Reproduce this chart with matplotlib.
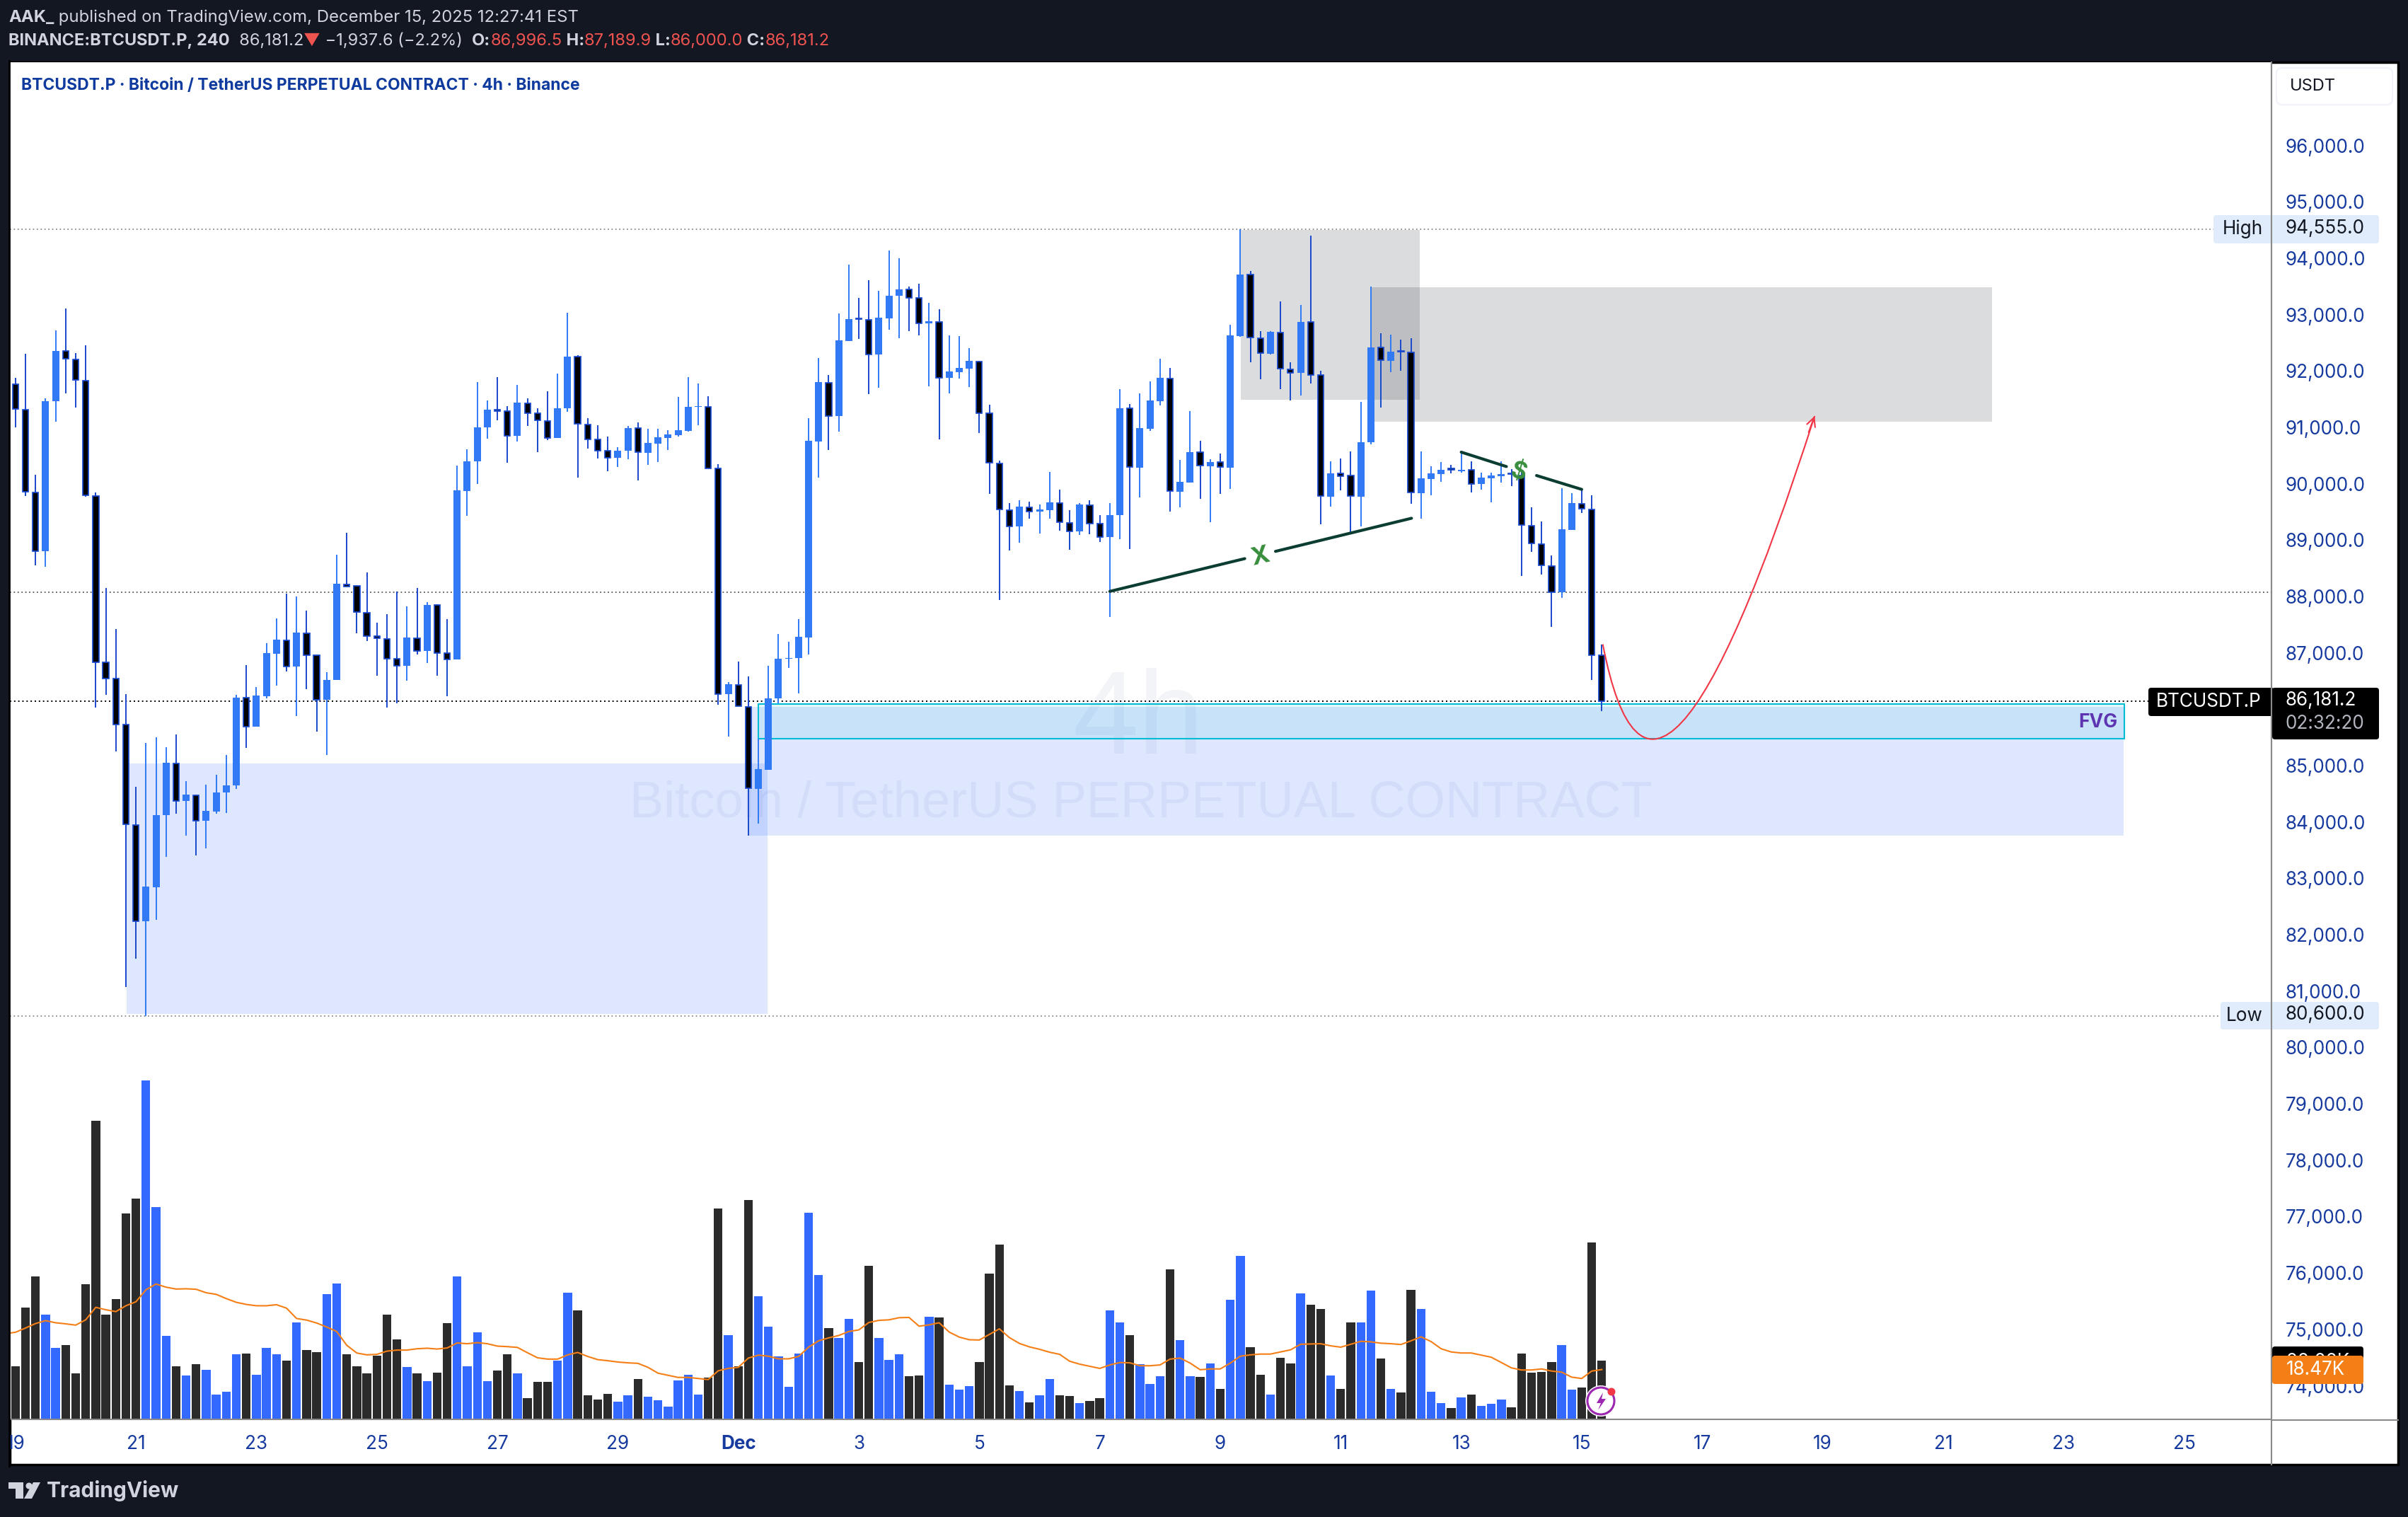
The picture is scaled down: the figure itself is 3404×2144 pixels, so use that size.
import matplotlib
matplotlib.use("Agg")
import matplotlib.pyplot as plt
from matplotlib.patches import Rectangle, FancyBboxPatch, PathPatch, Polygon, Circle
from matplotlib.path import Path

# candle values (index 0 = Nov 19 00:00, one candle = 4h)
opens = [91804, 91356, 89886, 88846, 91499, 92387, 92243, 91867, 89823, 86865, 86587, 85771, 83988, 82275, 82885, 84158,
         85081, 84409, 84517, 84059, 84221, 84561, 84687, 86247, 85727, 86264, 87017, 87259, 86793, 87385, 86991, 86211,
         86551, 88254, 88228, 87753, 87340, 87286, 86929, 86814, 87300, 87076, 87883, 87038, 86916, 89913, 90431, 91033,
         91353, 91321, 90892, 91469, 91283, 91155, 90854, 91373, 92288, 91091, 90828, 90617, 90502, 90617, 91020, 90591,
         90745, 90854, 90899, 90976, 91405, 91405, 90303, 86301, 86474, 86082, 84630, 84967, 86227, 86929, 86943, 87315,
         90791, 91830, 91232, 92567, 92966, 92939, 92326, 92966, 93366, 93489, 93338, 92877, 92911, 91920, 92016, 92078,
         92209, 91293, 90399, 89573, 89277, 89621, 89538, 89566, 89696, 89345, 89187, 89662, 89325, 89091, 89482, 91370,
         90328, 91010, 91504, 91908, 89900, 90063, 90592, 90352, 90428, 90328, 92657, 93743, 92623, 92340, 92724, 92071,
         92009, 92902, 91961, 89809, 90217, 90179, 89809, 90774, 92460, 92220, 92393, 92364, 89876, 90126, 90212, 90313,
         90265, 90280, 90035, 90135, 90175, 90221, 90183, 89297, 88970, 88581, 88117, 89221, 89686, 89585, 86996.5]
highs = [91912, 92342, 90200, 91553, 92754, 93149, 92351, 92494, 89886, 88192, 87457, 86309, 84660, 85440, 85538, 85368,
         85592, 84759, 84525, 84696, 84875, 85225, 86291, 86820, 86435, 87206, 87645, 88084, 88039, 87788, 86991, 86695,
         88774, 89169, 88228, 88461, 87573, 87726, 88126, 87864, 88190, 87934, 87902, 87633, 90361, 90649, 91840, 91513,
         91930, 91411, 91789, 91552, 91373, 91680, 91994, 93069, 92314, 91200, 91072, 90873, 90687, 91059, 91123, 91014,
         91014, 90988, 91577, 91930, 91814, 91590, 90387, 86519, 86884, 86619, 85518, 86805, 87370, 87232, 87638, 91197,
         92264, 91968, 93056, 93923, 93331, 93648, 93462, 94171, 94033, 93531, 93586, 93249, 93132, 92670, 92657, 92443,
         92216, 91438, 90447, 89696, 89745, 89717, 89669, 90247, 89930, 89566, 89696, 89745, 89483, 89696, 91716, 91456,
         91639, 91850, 92254, 92090, 90457, 91327, 90798, 90472, 90572, 92854, 94555, 93810, 92744, 92744, 93272, 92191,
         93209, 94439, 92042, 90433, 90486, 90611, 91490, 93536, 92705, 92681, 92595, 92619, 90611, 90347, 90419, 90371,
         90597, 90433, 90232, 90232, 90434, 90296, 90242, 89619, 89368, 88765, 89958, 89870, 89928, 89832, 87189.9]
lows = [91033, 89814, 88595, 88559, 91132, 91634, 91383, 89805, 86067, 86291, 85287, 81110, 81612, 80600, 82302, 83414,
        84185, 83790, 83450, 83575, 84185, 84194, 84624, 85350, 85727, 86229, 86453, 86704, 85915, 86399, 85646, 85225,
        86551, 88210, 87385, 87241, 86632, 86067, 86141, 86538, 87012, 86852, 86628, 86263, 86916, 89465, 90028, 90841,
        91168, 90406, 90790, 91059, 90604, 90816, 90854, 91309, 90150, 90655, 90489, 90265, 90329, 90476, 90092, 90367,
        90419, 90630, 90880, 90956, 91078, 90303, 86122, 85559, 86090, 83790, 84003, 84967, 86144, 86764, 86323, 87005,
        90151, 90640, 90956, 92567, 92601, 91631, 91734, 92774, 92622, 92739, 92663, 91762, 90818, 91645, 91906, 91748,
        90942, 89862, 87969, 88857, 88987, 89414, 89159, 89421, 89201, 88870, 89125, 89146, 89008, 87679, 89060, 88882,
        89799, 90976, 91432, 89549, 89622, 90063, 89775, 89357, 89862, 89948, 92643, 92196, 91893, 92330, 91720, 91519,
        91605, 91821, 89324, 89636, 89924, 89184, 89285, 90741, 91394, 92018, 92047, 89684, 89420, 89838, 90073, 90227,
        90236, 89886, 89939, 89713, 90062, 89999, 88406, 88832, 88431, 87502, 88017, 89221, 89523, 86561, 86000]
closes = [91365, 89895, 88846, 91499, 92396, 92252, 91876, 89832, 86865, 86587, 85771, 83997, 82275, 82894, 84158, 85090,
          84409, 84525, 84059, 84239, 84561, 84687, 86247, 85727, 86282, 87035, 87268, 86793, 87394, 86991, 86211, 86560,
          88263, 88219, 87761, 87340, 87295, 86928, 86814, 87307, 87076, 87889, 87038, 86916, 89919, 90431, 91040, 91353,
          91321, 90892, 91475, 91283, 91161, 90854, 91373, 92295, 91097, 90828, 90617, 90502, 90623, 91027, 90598, 90758,
          90860, 90912, 90988, 91398, 91417, 90303, 86308, 86481, 86090, 84637, 84974, 86227, 86929, 86950, 87321, 90798,
          91837, 91232, 92581, 92959, 92953, 92326, 92980, 93372, 93483, 93338, 92877, 92918, 91920, 92030, 92092, 92216,
          91293, 90405, 89579, 89277, 89628, 89545, 89579, 89703, 89352, 89187, 89669, 89325, 89098, 89483, 91375, 90332,
          91024, 91514, 91913, 89905, 90068, 90597, 90356, 90428, 90332, 92667, 93747, 92628, 92350, 92729, 92076, 92009,
          92907, 91961, 89814, 90222, 90174, 89814, 90779, 92460, 92225, 92374, 92374, 89881, 90131, 90217, 90289, 90289,
          90289, 90039, 90140, 90184, 90209, 90204, 89301, 88975, 88586, 88117, 89226, 89690, 89589, 86996.5, 86181.2]

# volume and its moving average, in thousands
volumes = [19.8, 41.9, 53.6, 39.2, 26.7, 27.8, 17.1, 50.5, 112.2, 39.2, 45.1, 77.4, 83.0, 127.4, 79.7, 31.2,
           19.8, 16.1, 20.6, 18.4, 9.1, 10.2, 24.1, 24.5, 16.5, 26.7, 24.3, 21.9, 36.3, 25.9, 25.1, 47.0,
           50.9, 24.1, 19.8, 17.1, 23.8, 39.2, 29.9, 19.3, 17.1, 14.1, 17.4, 36.0, 53.6, 19.8, 32.5, 14.1,
           18.2, 24.1, 17.1, 7.6, 13.9, 13.7, 21.7, 47.5, 40.8, 8.8, 7.2, 9.3, 6.4, 8.8, 14.9, 8.3,
           6.9, 4.5, 14.4, 16.5, 9.1, 15.5, 79.1, 31.4, 19.7, 82.3, 46.1, 34.6, 23.5, 12.0, 24.5, 77.5,
           54.1, 34.1, 30.4, 37.6, 21.3, 57.6, 30.4, 22.1, 24.3, 16.0, 16.3, 38.4, 38.1, 12.8, 10.9, 12.3,
           21.3, 54.6, 65.6, 12.5, 10.4, 6.1, 8.8, 14.9, 8.8, 8.5, 5.9, 6.7, 7.7, 40.8, 36.2, 31.4,
           20.5, 13.1, 16.0, 56.2, 29.6, 16.0, 15.7, 20.8, 11.2, 44.8, 61.3, 26.9, 16.5, 9.1, 22.9, 20.8,
           47.2, 42.9, 41.3, 16.3, 11.2, 36.2, 36.2, 48.2, 22.7, 11.2, 9.9, 48.5, 41.3, 10.1, 5.9, 4.0,
           8.0, 9.1, 4.8, 5.6, 7.2, 4.3, 24.5, 17.3, 17.6, 21.3, 27.7, 10.9, 11.7, 66.4, 21.9]
# starts one bar before the first candle, that bar sits behind the left edge
vol_ma = [32.0, 32.5, 34.1, 35.8, 36.9, 36.1, 35.7, 35.2, 37.2, 41.9, 41.0, 40.3, 42.5, 44.0, 48.5, 50.7, 49.5,
          48.8, 48.9, 48.7, 47.4, 46.8, 45.2, 43.8, 43.0, 42.5, 42.5, 42.9, 41.6, 37.7, 37.1, 36.0, 34.5,
          32.8, 27.6, 24.7, 24.0, 24.2, 25.4, 25.8, 25.8, 26.3, 26.5, 26.2, 26.6, 28.5, 28.2, 28.6, 28.2,
          27.3, 27.1, 26.8, 24.8, 22.9, 22.4, 22.4, 24.0, 24.9, 23.4, 22.2, 21.8, 21.3, 21.0, 20.8, 19.3,
          17.1, 16.3, 15.5, 15.5, 15.1, 14.7, 18.0, 18.9, 19.3, 22.8, 23.9, 23.5, 22.5, 22.5, 23.4, 26.9,
          29.3, 30.4, 31.3, 32.8, 33.4, 36.2, 37.0, 37.2, 38.0, 38.1, 34.8, 35.3, 36.1, 32.6, 30.7, 29.7,
          29.6, 31.7, 33.8, 30.5, 28.3, 27.0, 26.1, 25.0, 24.2, 21.6, 20.5, 19.7, 18.9, 20.2, 21.1, 21.0,
          19.9, 19.9, 20.2, 22.4, 22.8, 20.9, 18.4, 18.7, 18.7, 20.9, 23.5, 24.0, 24.3, 24.3, 25.1, 25.9,
          28.0, 28.1, 28.2, 27.4, 26.9, 28.0, 29.1, 28.9, 28.4, 28.2, 27.9, 29.3, 30.8, 29.0, 26.3, 25.1,
          24.7, 24.7, 23.9, 23.1, 21.1, 19.1, 18.3, 18.3, 18.7, 17.9, 17.5, 15.6, 15.1, 17.9, 18.47]

price_ticks = list(range(74000, 97000, 1000))
date_ticks = [0, 12, 24, 36, 48, 60, 72, 84, 96, 108, 120, 132, 144, 156, 168, 180, 192, 204, 216]
date_labels = ["19", "21", "23", "25", "27", "29", "Dec", "3", "5", "7", "9", "11", "13", "15", "17", "19", "21", "23", "25"]

high_level = 94555
low_level = 80600
mid_level = 88113
last_close = 86181.2

# colours
BG = "#131722"
UP = "#3179f5"
DOWN_EDGE = "#1848cc"
VOL_UP = "#3369ff"
VOL_DOWN = "#2b2b2b"
TICK = "#173a9e"
ZONE_BLUE = "#2962ff"
FVG = "#00bcd4"
LINE_GREEN = "#0b3d33"
TEXT_GREEN = "#388e3c"
RED = "#f23645"
FONT = "Inter"
AXIS_SIZE = 18.8

W, H = 3404, 2144
fig = plt.figure(figsize=(W / 100, H / 100), dpi=100, facecolor=BG)

# chart pane, pixel box 14..3211 x 88..2006
ax = fig.add_axes([14 / W, 1 - 2006 / H, (3211 - 14) / W, (2006 - 88) / H], facecolor="white")
ax.set_xlim(-0.55, 224.7)
ax.set_ylim(73442, 97513)

vol_ax = fig.add_axes(ax.get_position(), facecolor="none", sharex=ax)
vol_ax.set_ylim(-0.3, 511)
vol_ax.axis("off")

xs = list(range(len(opens)))
is_up = [c >= o for o, c in zip(opens, closes)]

# zones under the candles
def zone(x0, x1, p0, p1, color, alpha, z=1.0):
    ax.add_patch(Rectangle((x0, p0), x1 - x0, p1 - p0, facecolor=color, edgecolor="none", alpha=alpha, zorder=z))

ax.text(111.8, 85790, "4h", family="Liberation Sans", fontsize=120, color="#f3f4f7", ha="center", va="center", zorder=0.5)
ax.text(112.1, 84350, "Bitcoin / TetherUS PERPETUAL CONTRACT", family="Liberation Sans", fontsize=52,
        color="#f1f3f8", ha="center", va="center", zorder=0.5)

zone(11.07, 74.9, 80635, 85072, ZONE_BLUE, 0.15)
zone(73.07, 209.95, 83797, 86075, ZONE_BLUE, 0.15)
zone(122.07, 139.9, 91523, 94540, BG, 0.15)
zone(135.0, 196.9, 91139, 93522, BG, 0.15)
ax.add_patch(Rectangle((74, 85515), 136.05, 619, facecolor=FVG + "1a", edgecolor=FVG, lw=1.5, zorder=1.2))

# dotted levels
dots = (0, (1, 2))
ax.axhline(high_level, color="#8a8a8a", lw=1.3, ls=dots, zorder=1.5)
ax.axhline(low_level, color="#8a8a8a", lw=1.3, ls=dots, zorder=1.5)
ax.axhline(mid_level, color="#555555", lw=1.3, ls=dots, zorder=1.5)
ax.axhline(last_close, color="black", lw=1.4, ls=dots, zorder=1.5)

# candles
wick_colors = [UP if u else DOWN_EDGE for u in is_up]
ax.vlines(xs, lows, highs, colors=wick_colors, lw=1.4, zorder=3)
for x, o, c, u in zip(xs, opens, closes, is_up):
    if u:
        ax.bar(x, max(c - o, 12), bottom=o, width=0.705, color=UP, linewidth=0, zorder=4)
    else:
        ax.bar(x, o - c, bottom=c, width=0.585, facecolor="black", edgecolor=DOWN_EDGE, linewidth=1.25, zorder=4)

# volume
vol_ax.bar(xs, volumes, width=0.87, color=[VOL_UP if u else VOL_DOWN for u in is_up], linewidth=0, zorder=2)
vol_ax.plot([-1] + xs, vol_ma, color="#f57f17", lw=1.5, zorder=3)

# drawings
ax.plot([109, 122.44], [88128, 88709], color=LINE_GREEN, lw=3, solid_capstyle="round", zorder=6)
ax.plot([125.5, 139.05], [88838, 89425], color=LINE_GREEN, lw=3, solid_capstyle="round", zorder=6)
ax.plot([144, 148.5], [90598, 90342], color=LINE_GREEN, lw=3, solid_capstyle="round", zorder=6)
ax.plot([151.5, 156], [90183, 89937], color=LINE_GREEN, lw=3, solid_capstyle="round", zorder=6)
ax.text(124, 88740, "X", family=FONT, weight="bold", fontsize=25, color=TEXT_GREEN, rotation=13.5,
        ha="center", va="center", zorder=6)
ax.text(149.7, 90240, "$", family=FONT, weight="bold", fontsize=24, color=TEXT_GREEN, rotation=-17,
        ha="center", va="center", zorder=6)

curve = Path([(158.1, 87190), (163.3, 82400), (179.2, 91238)], [Path.MOVETO, Path.CURVE3, Path.CURVE3])
ax.add_patch(PathPatch(curve, facecolor="none", edgecolor=RED, lw=1.5, zorder=6))
ax.annotate("", xy=(179.2, 91238), xytext=(178.6, 90950),
            arrowprops=dict(arrowstyle="->", color=RED, lw=1.5, mutation_scale=22, shrinkA=0, shrinkB=0), zorder=6)

ax.text(209.4, 85800, "FVG", family=FONT, weight="bold", fontsize=19, color="#5e35b1", ha="right", va="center", zorder=7)

# axes
for side in ["top", "left"]:
    ax.spines[side].set_visible(False)
for side in ["right", "bottom"]:
    ax.spines[side].set_color("#8a8a8a")
    ax.spines[side].set_linewidth(1.5)
ax.yaxis.tick_right()
ax.set_yticks(price_ticks, [f"{p:,.1f}" for p in price_ticks], family=FONT, fontsize=AXIS_SIZE, color=TICK)
ax.set_xticks(date_ticks, date_labels, family=FONT, fontsize=AXIS_SIZE, color=TICK)
ax.tick_params(axis="both", length=0)
ax.tick_params(axis="y", pad=14)
ax.tick_params(axis="x", pad=16)
for lab in ax.get_yticklabels():
    lab.set_va("center")
for lab in ax.get_xticklabels():
    if lab.get_text() == "Dec":
        lab.set_fontweight("bold")

# everything outside the panes, in pixel coordinates
ov = fig.add_axes([0, 0, 1, 1], facecolor="none", zorder=10)
ov.set_xlim(0, W)
ov.set_ylim(H, 0)
ov.axis("off")

def tag(x0, y0, x1, y1, color, z=2):
    ov.add_patch(FancyBboxPatch((x0 + 4, y0 + 4), x1 - x0 - 8, y1 - y0 - 8, boxstyle="round,pad=4",
                                facecolor=color, edgecolor="none", zorder=z))

# right hand panel and frame
fig.patches.append(Rectangle((14 / W, 1 - 2070 / H), (3390 - 14) / W, (2070 - 88) / H, transform=fig.transFigure,
                             facecolor="white", edgecolor="black", lw=2.5, zorder=-1))
ov.add_patch(Rectangle((0, 86), 13, 1990, facecolor=BG, edgecolor="none", zorder=1))
ov.plot([13, 13], [86, 2072], color="black", lw=2, zorder=1)
ov.plot([3211, 3211], [88, 2070], color="#8a8a8a", lw=1.5, zorder=5)
ov.plot([3211, 3390], [2006.7, 2006.7], color="#8a8a8a", lw=1.5, zorder=1)

ov.add_patch(FancyBboxPatch((3226, 104), 148, 36, boxstyle="round,pad=8", facecolor="white", edgecolor="#f0f3fa", lw=1.5, zorder=1))
ov.text(3237, 122, "USDT", family=FONT, fontsize=17, color="#131722", va="center", ha="left", zorder=3)

tag(3129, 304, 3363, 344, "#e0ecfb")
ov.text(3199, 324, "High", family=FONT, fontsize=AXIS_SIZE, color="#131722", ha="right", va="center", zorder=3)
ov.text(3230, 323, "94,555.0", family=FONT, fontsize=AXIS_SIZE, color="#131722", ha="left", va="center", zorder=3)

tag(3139, 1416, 3363, 1455, "#e0ecfb")
ov.text(3199, 1436, "Low", family=FONT, fontsize=AXIS_SIZE, color="#131722", ha="right", va="center", zorder=3)
ov.text(3230, 1434, "80,600.0", family=FONT, fontsize=AXIS_SIZE, color="#131722", ha="left", va="center", zorder=3)

tag(3037, 972, 3215, 1012, "black")
tag(3212, 972, 3363, 1045, "black")
ov.text(3197, 992, "BTCUSDT.P", family=FONT, fontsize=AXIS_SIZE, color="white", ha="right", va="center", zorder=3)
ov.text(3230, 990, "86,181.2", family=FONT, fontsize=AXIS_SIZE, color="white", ha="left", va="center", zorder=3)
ov.text(3230, 1023, "02:32:20", family=FONT, fontsize=AXIS_SIZE, color="#b2b5be", ha="left", va="center", zorder=3)

tag(3212, 1903, 3341, 1946, "black", z=2)
ov.text(3232, 1925, "22.02K", family=FONT, fontsize=AXIS_SIZE, color="white", ha="left", va="center", zorder=2.1)
tag(3212, 1916, 3341, 1956, "#f47f17", z=2.5)
ov.text(3232, 1936, "18.47K", family=FONT, fontsize=AXIS_SIZE, color="white", ha="left", va="center", zorder=3)

# replay badge on the last bar
ov.add_patch(Circle((2263, 1980), 22, facecolor="white", edgecolor="none", zorder=3))
ov.add_patch(Circle((2263, 1980), 19, facecolor="white", edgecolor="#9c27b0", lw=2.2, zorder=3.1))
ov.add_patch(Polygon([(2266, 1968), (2257, 1983), (2263, 1983), (2259, 1993), (2270, 1977), (2264, 1977)],
                     facecolor="#9c27b0", edgecolor="none", zorder=3.2))
ov.add_patch(Circle((2278, 1967), 5.5, facecolor="#f23645", edgecolor="none", zorder=3.3))

# header text, placed piece by piece
def write_row(x, y, pieces, size):
    rend = fig.canvas.get_renderer()
    for txt, color, weight in pieces:
        t = ov.text(x, y, txt, family=[FONT, "DejaVu Sans"], fontsize=size, color=color, weight=weight, ha="left", va="center")
        x = ov.transData.inverted().transform(t.get_window_extent(rend).get_points())[1][0]
        x += 7 if txt.endswith(" ") else 0

LIGHT = "#d1d4dc"
HRED = "#ef5350"
write_row(12, 25, [("AAK_", LIGHT, "bold"), (" published on TradingView.com, December 15, 2025 12:27:41 EST", LIGHT, "normal")], 17.2)
write_row(12, 58, [("BINANCE:BTCUSDT.P, 240", LIGHT, "bold"), ("  86,181.2", LIGHT, "normal"), ("▼", HRED, "normal"),
                   (" −1,937.6 (−2.2%) ", LIGHT, "normal"), ("O:", LIGHT, "bold"), ("86,996.5", HRED, "normal"),
                   (" H:", LIGHT, "bold"), ("87,189.9", HRED, "normal"), (" L:", LIGHT, "bold"), ("86,000.0", HRED, "normal"),
                   (" C:", LIGHT, "bold"), ("86,181.2", HRED, "normal")], 17)
ov.text(30, 121, "BTCUSDT.P · Bitcoin / TetherUS PERPETUAL CONTRACT · 4h · Binance", family=FONT, weight="bold",
        fontsize=16.5, color="#0f3a9e", ha="left", va="center")

# TradingView logo
ov.add_patch(Polygon([(12, 2095), (33, 2095), (33, 2118), (22, 2118), (22, 2104), (12, 2104)], facecolor=LIGHT, edgecolor="none"))
ov.add_patch(Circle((41, 2100), 4.5, facecolor=LIGHT, edgecolor="none"))
ov.add_patch(Polygon([(47, 2095), (57, 2095), (45, 2118), (34, 2118)], facecolor=LIGHT, edgecolor="none"))
ov.text(66, 2107, "TradingView", family=FONT, weight="bold", fontsize=21.5, color=LIGHT, ha="left", va="center")

fig.savefig("out.png", dpi=100, facecolor=BG)
